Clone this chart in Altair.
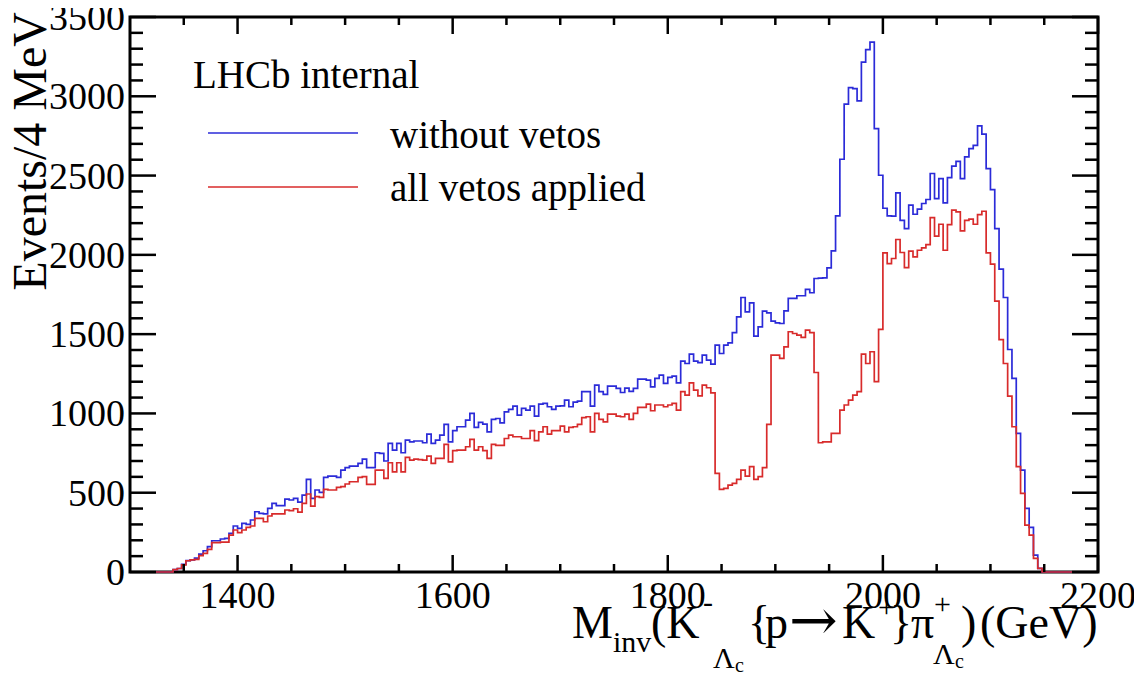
import altair as alt
import pandas as pd
import numpy as np

# ---------------- data ----------------
x_min, x_max, bin_w = 1300, 2200, 4
first_bin_low = 1340  # low edge of first non-empty bin

without_vetos = [
    15, 22, 48, 72, 76, 88, 113, 134, 160, 197,
    197, 208, 212, 244, 290, 275, 307, 300, 328, 380,
    370, 366, 401, 433, 418, 418, 460, 454, 464, 441,
    485, 584, 464, 517, 502, 597, 605, 605, 597, 643,
    658, 668, 668, 685, 712, 658, 658, 752, 748, 700,
    811, 769, 811, 752, 832, 821, 826, 826, 815, 870,
    811, 832, 863, 931, 821, 891, 916, 916, 958, 1000,
    912, 943, 933, 884, 962, 968, 941, 1010, 1025, 1046,
    989, 1032, 1021, 1046, 983, 1059, 1063, 1042, 1025, 1046,
    1048, 1084, 1042, 1071, 1078, 1137, 1137, 1046, 1179, 1137,
    1120, 1172, 1172, 1158, 1132, 1160, 1139, 1158, 1216, 1216,
    1210, 1168, 1221, 1242, 1189, 1227, 1235, 1193, 1330, 1315,
    1374, 1330, 1321, 1368, 1336, 1311, 1431, 1378, 1431, 1445,
    1510, 1609, 1731, 1641, 1697, 1487, 1546, 1645, 1634, 1582,
    1571, 1567, 1647, 1725, 1725, 1742, 1742, 1782, 1761, 1851,
    1853, 1855, 1918, 2025, 2246, 2603, 2950, 3055, 3048, 2971,
    3216, 3294, 3342, 2796, 2502, 2294, 2246, 2244, 2391, 2218,
    2166, 2313, 2256, 2288, 2324, 2349, 2513, 2355, 2481, 2328,
    2487, 2559, 2590, 2481, 2618, 2670, 2691, 2813, 2761, 2544,
    2412, 2166, 1910, 1731, 1403, 1221, 874, 643, 401, 282,
    107, 23,
]

all_vetos = [
    15, 22, 45, 71, 76, 80, 103, 118, 143, 185,
    185, 189, 189, 233, 265, 248, 265, 282, 290, 338,
    338, 317, 353, 366, 366, 366, 391, 387, 399, 378,
    433, 492, 416, 475, 471, 521, 517, 517, 534, 538,
    555, 569, 569, 597, 601, 553, 553, 643, 643, 590,
    689, 632, 689, 632, 723, 706, 712, 709, 706, 731,
    685, 716, 716, 805, 695, 765, 769, 769, 790, 836,
    769, 790, 765, 716, 805, 798, 798, 842, 863, 853,
    853, 842, 842, 891, 828, 884, 916, 870, 891, 891,
    920, 884, 912, 916, 931, 973, 979, 884, 1000, 962,
    947, 996, 996, 983, 979, 996, 962, 1000, 1038, 1038,
    1059, 1017, 1053, 1053, 1042, 1053, 1063, 1021, 1137, 1116,
    1193, 1147, 1111, 1179, 1162, 1130, 622, 521, 527, 548,
    559, 584, 643, 605, 664, 584, 601, 658, 931, 1368,
    1368, 1347, 1420, 1515, 1504, 1494, 1479, 1525, 1510, 1258,
    815, 821, 821, 874, 874, 1021, 1053, 1084, 1116, 1137,
    1374, 1315, 1389, 1200, 1530, 2013, 1945, 1977, 2097, 2015,
    1920, 2023, 1987, 2029, 2044, 2065, 2235, 2118, 2193, 2029,
    2191, 2282, 2271, 2151, 2218, 2225, 2193, 2254, 2275, 2013,
    1941, 1708, 1466, 1315, 1109, 916, 664, 496, 296, 233,
    86, 23,
]

series_names = ["without vetos", "all vetos applied"]
series_colors = ["#2b2bd8", "#d82b2b"]

x_major = [1400, 1600, 1800, 2000, 2200]
x_minor = [1350, 1450, 1500, 1550, 1650, 1700, 1750, 1850, 1900, 1950, 2050, 2100, 2150]
y_major = [0, 500, 1000, 1500, 2000, 2500, 3000, 3500]
y_minor = [v for v in range(100, 3500, 100) if v % 500 != 0]

y_title = "Events/4 MeV"
lhcb_label = "LHCb internal"

# ---------------- build table ----------------
edges = np.arange(x_min, x_max + bin_w, bin_w)
nbins = len(edges) - 1
start = (first_bin_low - x_min) // bin_w


def full(vals):
    arr = np.zeros(nbins)
    arr[start:start + len(vals)] = vals
    return list(arr) + [0.0]


rows = []
for name, vals in zip(series_names, [without_vetos, all_vetos]):
    for e, v in zip(edges, full(vals)):
        rows.append({"m": float(e), "n": float(v), "series": name})
hist = pd.DataFrame(rows)

W, H = 968, 555
FONT = "Liberation Serif"
xs = alt.Scale(domain=[x_min, x_max], nice=False, zero=False)
ys = alt.Scale(domain=[0, 3500], nice=False, zero=False)

lines = alt.Chart(hist).mark_line(interpolate="step-after", strokeWidth=1.7).encode(
    x=alt.X("m:Q", scale=xs, axis=None),
    y=alt.Y("n:Q", scale=ys, axis=None),
    color=alt.Color("series:N", scale=alt.Scale(domain=series_names, range=series_colors), legend=None),
    order=alt.Order("m:Q"),
)


def xticks(vals, length, top):
    d = pd.DataFrame({"m": vals})
    if top:
        yy, yy2 = alt.value(0), alt.value(length)
    else:
        yy, yy2 = alt.value(H), alt.value(H - length)
    return alt.Chart(d).mark_rule(color="black", strokeWidth=2.5).encode(
        x=alt.X("m:Q", scale=xs, axis=None), y=yy, y2=yy2)


def yticks(vals, length, right):
    d = pd.DataFrame({"n": vals})
    if right:
        xx, xx2 = alt.value(W), alt.value(W - length)
    else:
        xx, xx2 = alt.value(0), alt.value(length)
    return alt.Chart(d).mark_rule(color="black", strokeWidth=2.5).encode(
        y=alt.Y("n:Q", scale=ys, axis=None), x=xx, x2=xx2)


tick_layers = [
    xticks(x_major, 17, False), xticks(x_minor, 8, False),
    xticks(x_major, 17, True), xticks(x_minor, 8, True),
    yticks(y_major, 26, False), yticks(y_minor, 13, False),
    yticks(y_major, 26, True), yticks(y_minor, 13, True),
]

# tick labels
xlab = pd.DataFrame({"m": x_major, "lab": [str(v) for v in x_major]})
ylab = pd.DataFrame({"n": y_major, "lab": [str(v) for v in y_major]})
x_labels = alt.Chart(xlab).mark_text(font=FONT, fontSize=38, align="center", baseline="alphabetic",
                                     color="black").encode(
    x=alt.X("m:Q", scale=xs, axis=None), y=alt.value(H + 36), text="lab:N")
y_labels = alt.Chart(ylab).mark_text(font=FONT, fontSize=38, align="right", baseline="alphabetic",
                                     color="black", dy=13).encode(
    y=alt.Y("n:Q", scale=ys, axis=None), x=alt.value(-5), text="lab:N")

one = pd.DataFrame({"a": [0]})


def txt(s, x, y, size, angle=0, align="left", font=FONT):
    return alt.Chart(one).mark_text(text=s, font=font, fontSize=size, align=align,
                                    baseline="alphabetic", color="black", angle=angle).encode(
        x=alt.value(x), y=alt.value(y))


def legline(color, y):
    return alt.Chart(one).mark_rule(color=color, strokeWidth=1.7).encode(
        x=alt.value(78), x2=alt.value(228), y=alt.value(y))


OX, OY = 130, 17  # absolute position of plot origin on the page
title_parts = [
    ("M", 572, 638, 46, FONT), ("inv", 613, 652, 30, FONT), ("(K", 651, 638, 46, FONT),
    ("-", 703, 612, 30, FONT), ("Λ", 713, 668, 30, FONT), ("c", 735, 672, 20, FONT),
    ("{", 748, 638, 46, FONT), ("p", 765, 638, 46, FONT), ("→", 789, 640, 58, "DejaVu Serif"),
    ("K", 842, 638, 46, FONT), ("+", 878, 617, 30, FONT), ("}", 890, 638, 46, FONT),
    ("π", 911, 638, 46, FONT), ("+", 934, 614, 30, FONT), ("Λ", 933, 664, 30, FONT),
    ("c", 955, 668, 20, FONT), (")", 961, 638, 46, FONT), ("(GeV)", 980, 638, 46, FONT),
]
text_layers = [txt(s, x - OX, y - OY, sz, font=f) for s, x, y, sz, f in title_parts]
text_layers.append(txt(y_title, 46 - OX, 12 - OY, 48, angle=270, align="right"))
text_layers.append(txt(lhcb_label, 193 - OX, 88 - OY, 39))
text_layers.append(txt(series_names[0], 390 - OX, 148 - OY, 39))
text_layers.append(txt(series_names[1], 390 - OX, 201 - OY, 39))

CANVAS_H = 670
chart = alt.layer(
    lines, *tick_layers, x_labels, y_labels,
    legline(series_colors[0], 133 - OY), legline(series_colors[1], 187 - OY),
    *text_layers,
).properties(
    width=W, height=H,
    autosize=alt.AutoSizeParams(type="none"),
    padding={"left": OX - 8, "top": OY - 8, "right": 36, "bottom": CANVAS_H - (OY - 8) - H},
    background="white",
).configure_view(stroke="black", strokeWidth=3)

chart.save("out.html", embed_options={"renderer": "svg", "actions": False})
